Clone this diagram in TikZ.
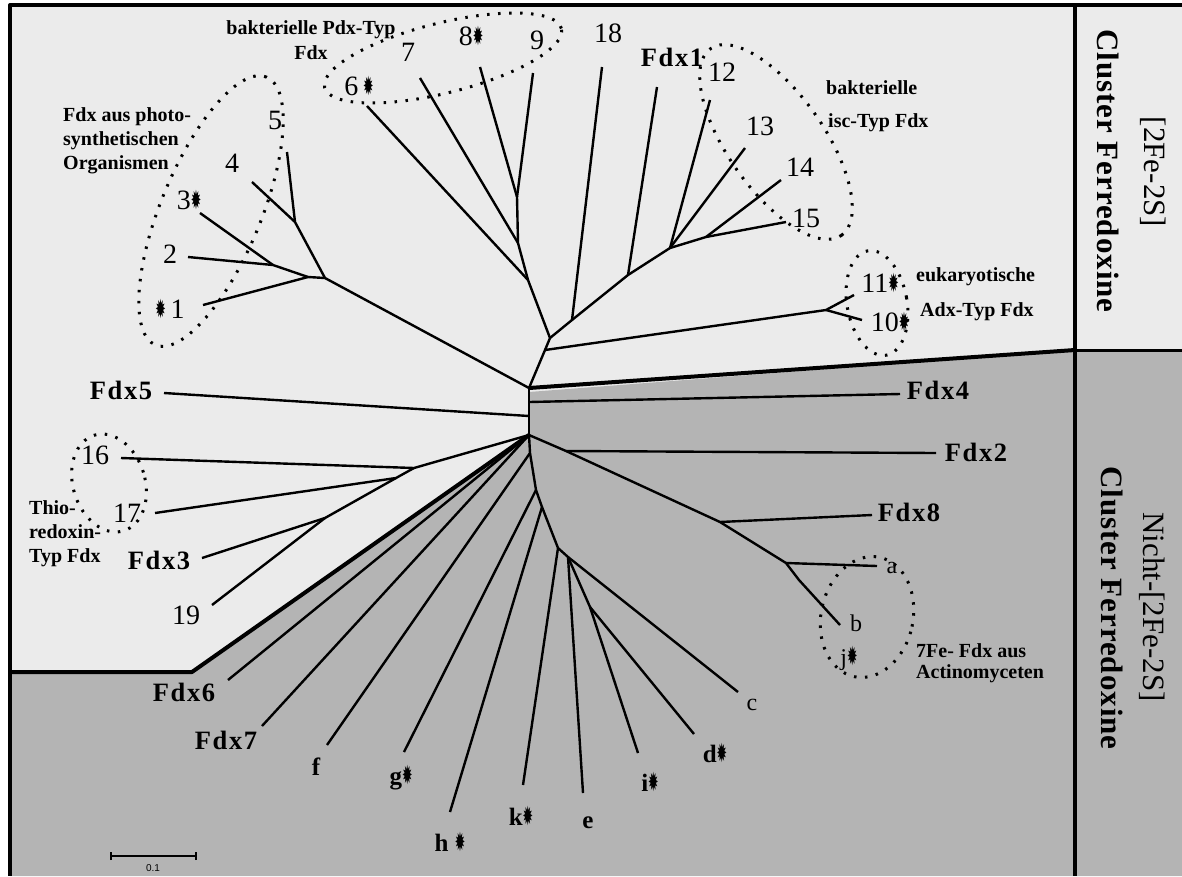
\documentclass[tikz,border=0pt]{standalone}
\usepackage{fontspec}
\usepackage{graphicx}
\setmainfont{Liberation Serif}
\newfontfamily\symfont{DejaVu Sans}
\newfontfamily\lsfont[LetterSpace=6]{Liberation Serif}
\newfontfamily\clfont[LetterSpace=3]{Liberation Serif}
\newfontfamily\scalefont{Liberation Sans}
\definecolor{lightbg}{RGB}{235,235,235}
\definecolor{darkbg}{RGB}{180,180,180}
\newcommand{\mk}{{\symfont\fontsize{25}{25}\selectfont\scalebox{0.5}[1.05]{✹}}}
\tikzset{
  br/.style={line width=2.4pt},
  bound/.style={line width=4pt},
  dots/.style={line width=3pt, dash pattern=on 2.5pt off 8.5pt},
  num/.style={font=\fontsize{28}{32}\selectfont, inner sep=0pt},
  fdxl/.style={font=\lsfont\bfseries\fontsize{26.5}{30}\selectfont, inner sep=0pt},
  letr/.style={font=\fontsize{24}{28}\selectfont, inner sep=0pt},
  letb/.style={font=\bfseries\fontsize{25}{28}\selectfont, inner sep=0pt},
  grp/.style={font=\bfseries\fontsize{20}{24}\selectfont, inner sep=0pt},
  side/.style={font=\fontsize{31}{36}\selectfont, inner sep=0pt, rotate=-90},
  sideb/.style={font=\clfont\bfseries\fontsize{31}{36}\selectfont, inner sep=0pt, rotate=-90}
}
\begin{document}
\begin{tikzpicture}[x=1pt,y=-1pt,line join=round]
\useasboundingbox (0,0) rectangle (1182,876);
% backgrounds
\fill[white] (0,0) rectangle (1182,876);
\fill[lightbg] (10,5) rectangle (1182,876);
\fill[darkbg] (1075,350) -- (529,392) -- (529,435) -- (192,672) -- (10,672) -- (10,876) -- (1182,876) -- (1182,350) -- cycle;

% ---------- coordinates ----------
\coordinate (U0) at (529,388);
\coordinate (C0) at (529,435);
\coordinate (C4) at (529,402);
\coordinate (C5) at (529,416);
% photosynthetic group
\coordinate (P1) at (325,278);
\coordinate (P2) at (295,222);
\coordinate (P3) at (308,277);
\coordinate (P4) at (273,265);
\coordinate (l1) at (203,305);
\coordinate (l2) at (188,257);
\coordinate (l3) at (200,213);
\coordinate (l4) at (252,182);
\coordinate (l5) at (287,152);
% upper
\coordinate (A0) at (545,350);
\coordinate (A) at (550,338);
\coordinate (Ad) at (826,310);
\coordinate (l11) at (854,295);
\coordinate (l10) at (862,320);
\coordinate (G1) at (528,280);
\coordinate (G2) at (518,243);
\coordinate (G3) at (517,197);
\coordinate (l6) at (367,106);
\coordinate (l7) at (420,78);
\coordinate (l8) at (480,67);
\coordinate (l9) at (533,73);
\coordinate (B) at (572,320);
\coordinate (C2) at (628,275);
\coordinate (D) at (670,248);
\coordinate (E) at (706,237);
\coordinate (l18) at (602,67);
\coordinate (lF1) at (657,87);
\coordinate (l12) at (710,100);
\coordinate (l13) at (745,148);
\coordinate (l14) at (781,180);
\coordinate (l15) at (786,222);
% middle
\coordinate (lF4) at (900,394);
\coordinate (lF5) at (164,393);
% light lower left
\coordinate (J1) at (414,468);
\coordinate (J2) at (396,478);
\coordinate (J3) at (325,518);
\coordinate (l16) at (121,458);
\coordinate (l17) at (155,513);
\coordinate (lF3) at (202,558);
\coordinate (l19) at (212,605);
% grey lower
\coordinate (lF6) at (228,680);
\coordinate (lF7) at (262,726);
\coordinate (T1) at (530,453);
\coordinate (T2) at (536,490);
\coordinate (T3) at (542,507);
\coordinate (T4) at (558,548);
\coordinate (T5) at (568,557);
\coordinate (T6) at (590,607);
\coordinate (lf) at (327,745);
\coordinate (lg) at (404,752);
\coordinate (lh) at (450,812);
\coordinate (lk) at (523,785);
\coordinate (le) at (583,793);
\coordinate (li) at (638,753);
\coordinate (ld) at (694,734);
\coordinate (lc) at (738,692);
\coordinate (F2j) at (566,451);
\coordinate (F8j) at (720,522);
\coordinate (Aj) at (786,563);
\coordinate (Bk) at (799,580);
\coordinate (lF2) at (936,453);
\coordinate (lF8) at (872,515);
\coordinate (la) at (877,566);
\coordinate (lb) at (840,625);

% ---------- tree ----------
\draw[br] (U0) -- (C0);
\draw[br] (U0) -- (P1) -- (P2) -- (l5);
\draw[br] (P2) -- (l4);
\draw[br] (P1) -- (P3) -- (l1);
\draw[br] (P3) -- (P4) -- (l2);
\draw[br] (P4) -- (l3);
\draw[br] (U0) -- (A0) -- (A);
\draw[br] (A0) -- (Ad) -- (l11);
\draw[br] (Ad) -- (l10);
\draw[br] (A) -- (G1) -- (G2) -- (G3) -- (l8);
\draw[br] (G3) -- (l9);
\draw[br] (G2) -- (l7);
\draw[br] (G1) -- (l6);
\draw[br] (A) -- (B) -- (C2) -- (D) -- (E) -- (l15);
\draw[br] (E) -- (l14);
\draw[br] (D) -- (l13);
\draw[br] (D) -- (l12);
\draw[br] (C2) -- (lF1);
\draw[br] (B) -- (l18);
\draw[br] (C4) -- (lF4);
\draw[br] (C5) -- (lF5);
\draw[br] (C0) -- (J1) -- (l16);
\draw[br] (J1) -- (J2) -- (l17);
\draw[br] (J2) -- (J3) -- (lF3);
\draw[br] (J3) -- (l19);
\draw[br] (C0) -- (lF6);
\draw[br] (C0) -- (lF7);
\draw[br] (C0) -- (T1) -- (T2) -- (T3) -- (T4) -- (T5) -- (T6) -- (li);
\draw[br] (T6) -- (ld);
\draw[br] (T5) -- (le);
\draw[br] (T5) -- (lc);
\draw[br] (T4) -- (lk);
\draw[br] (T3) -- (lh);
\draw[br] (T2) -- (lg);
\draw[br] (T1) -- (lf);
\draw[br] (C0) -- (F2j) -- (F8j) -- (Aj) -- (Bk) -- (lb);
\draw[br] (F2j) -- (lF2);
\draw[br] (F8j) -- (lF8);
\draw[br] (Aj) -- (la);

% ---------- frame and region borders ----------
\draw[bound] (1182,5) -- (10,5) -- (10,876);
\draw[bound] (1075,5) -- (1075,876);
\draw[line width=3pt] (1075,350) -- (1182,350);
\draw[bound] (1075,350) -- (U0);
\draw[bound] (C0) -- (192,672) -- (10,672);

% ---------- dotted groups ----------
\draw[dots] (211,211) circle[x radius=145pt, y radius=50pt, rotate=67.5];
\draw[dots] (443,58) circle[x radius=122pt, y radius=35pt, rotate=14];
\draw[dots] (776,142) circle[x radius=114pt, y radius=48pt, rotate=-55];
\draw[dots] (877,303) circle[x radius=30pt, y radius=53pt, rotate=10];
\draw[dots] (109,483) circle[x radius=36pt, y radius=50pt, rotate=17];
\draw[dots] (867,617) circle[x radius=46pt, y radius=61pt, rotate=-12];

% ---------- leaf labels ----------
\node[num] (t1) at (170,309) {\mk\,1};
\node[num] (t2) at (170,254) {2};
\node[num] (t3) at (189,200) {3\mk};
\node[num] (t4) at (232,163) {4};
\node[num] (t5) at (275,120) {5};
\node[num] (t6) at (359,86) {6\,\mk};
\node[num] (t7) at (408,52) {7};
\node[num] (t8) at (471,36) {8\mk};
\node[num] (t9) at (537,40) {9};
\node[num] (t18) at (608,33) {18};
\node[fdxl] (tF1) at (672,57) {Fdx1};
\node[num] (t12) at (722,72) {12};
\node[num] (t13) at (760,126) {13};
\node[num] (t14) at (800,167) {14};
\node[num] (t15) at (806,218) {15};
\node[num] (t11) at (880,283) {11\mk};
\node[num] (t10) at (890,322) {10\mk};
\node[fdxl] (tF4) at (938,390) {Fdx4};
\node[fdxl] (tF2) at (976,452) {Fdx2};
\node[fdxl] (tF8) at (909,512) {Fdx8};
\node[letr] (ta) at (892,568) {a};
\node[letr] (tb) at (856,623) {b};
\node[letr] (tj) at (849,658) {j\mk};
\node[letr] (tc) at (752,705) {c};
\node[letb] (td) at (715,753) {d\mk};
\node[letb] (ti) at (650,782) {i\mk};
\node[letb] (te) at (588,823) {e};
\node[letb] (tk) at (521,816) {k\mk};
\node[letb] (th) at (450,842) {h \mk};
\node[letb] (tg) at (401,778) {g\mk};
\node[letb] (tf) at (316,767) {f};
\node[fdxl] (tF7) at (226,740) {Fdx7};
\node[fdxl] (tF6) at (184,692) {Fdx6};
\node[num] (t19) at (186,615) {19};
\node[fdxl] (tF3) at (159,560) {Fdx3};
\node[num] (t17) at (127,513) {17};
\node[num] (t16) at (95,455) {16};
\node[fdxl] (tF5) at (121,390) {Fdx5};

% ---------- group labels ----------
\node[grp, align=left, anchor=west] (gphot) at (63,141) {Fdx aus photo-\\synthetischen\\Organismen};
\node[grp, align=center, font=\bfseries\fontsize{20}{25}\selectfont] (gpdx) at (311,40) {bakterielle Pdx-Typ\\Fdx};
\node[grp, anchor=west] (gisc1) at (826,88) {bakterielle};
\node[grp, anchor=west] (gisc2) at (828,123) {isc-Typ Fdx};
\node[grp, anchor=west] (gadx1) at (916,277) {eukaryotische};
\node[grp, anchor=west] (gadx2) at (920,312) {Adx-Typ Fdx};
\node[grp, align=left, anchor=west] (gthio) at (29,534) {Thio-\\redoxin-\\Typ Fdx};
\node[grp, align=left, anchor=west, font=\bfseries\fontsize{20}{21}\selectfont] (gact) at (916,663) {7Fe- Fdx aus\\Actinomyceten};

% ---------- side labels ----------
\node[side] (s1) at (1153,172) {[2Fe-2S]};
\node[sideb] (s2) at (1108,171) {Cluster Ferredoxine};
\node[side] (s3) at (1152,607) {Nicht-[2Fe-2S]};
\node[sideb] (s4) at (1112,608) {Cluster Ferredoxine};

% ---------- scale bar ----------
\coordinate (sb1) at (111,856);
\coordinate (sb2) at (196,856);
\draw[line width=1.2pt] (sb1) -- (sb2);
\draw[line width=1.2pt] ([yshift=-4pt]sb1) -- ([yshift=4pt]sb1);
\draw[line width=1.2pt] ([yshift=-4pt]sb2) -- ([yshift=4pt]sb2);
\node[font=\scalefont\fontsize{10}{12}\selectfont, inner sep=0pt] (sbl) at (153,868) {0.1};
\end{tikzpicture}
\end{document}
